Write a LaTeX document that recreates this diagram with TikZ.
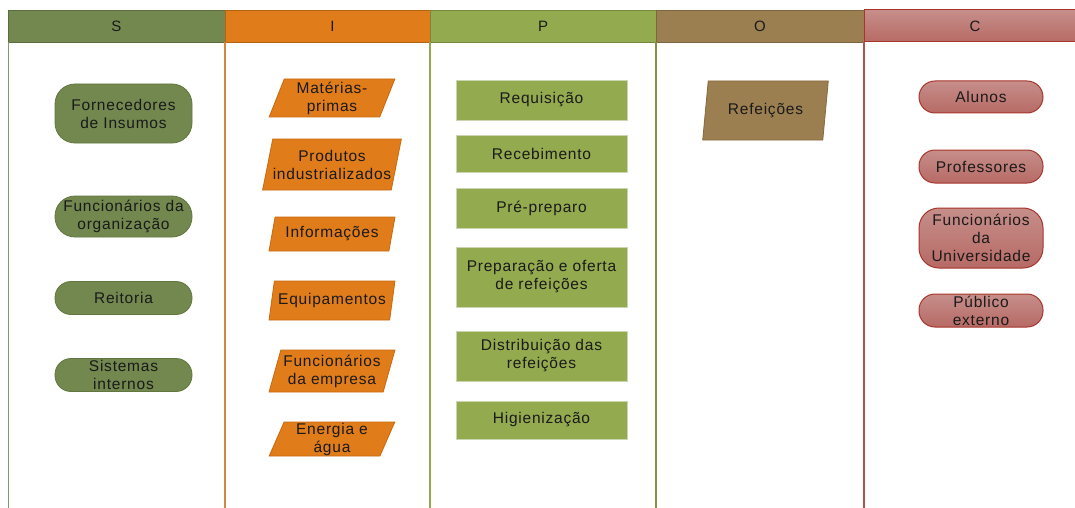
\documentclass[tikz,border=0pt]{standalone}
\usepackage{fontspec}
\setmainfont{Liberation Sans}[LetterSpace=5]
\usetikzlibrary{shapes.geometric}
\definecolor{sfill}{HTML}{72884F}
\definecolor{sline}{HTML}{62773F}
\definecolor{ifill}{HTML}{E07C1A}
\definecolor{iline}{HTML}{C8690E}
\definecolor{pfill}{HTML}{93AA4E}
\definecolor{pline}{HTML}{7F953E}
\definecolor{ofill}{HTML}{9C7F50}
\definecolor{oline}{HTML}{86693C}
\definecolor{cfilltop}{HTML}{C68E8A}
\definecolor{cfillbot}{HTML}{B76A65}
\definecolor{cline}{HTML}{A8352B}
\definecolor{ink}{HTML}{1A1A1A}
\begin{document}
\begin{tikzpicture}[x=1pt,y=-1pt,
  every node/.style={text=ink, font=\fontsize{15.5}{18}\selectfont, align=center, inner sep=0pt},
  header/.style={draw=#1!80!black, fill=#1, line width=0.8pt, minimum height=32pt, font=\fontsize{15}{16}\selectfont},
  sbox/.style={draw=sline, fill=sfill, line width=0.8pt, rounded corners=#1, minimum width=137pt},
  ibox/.style={draw=iline, fill=ifill, line width=0.8pt, trapezium, trapezium left angle=71, trapezium right angle=109, trapezium stretches=true, minimum width=126pt},
  pbox/.style={draw=pline!40!white, fill=pfill, line width=0.8pt, minimum width=171pt},
  obox/.style={draw=oline, fill=ofill, line width=0.8pt, trapezium, trapezium left angle=76, trapezium right angle=104, trapezium stretches=true, minimum width=126pt},
  cbox/.style={draw=cline, top color=cfilltop, bottom color=cfillbot, line width=1pt, rounded corners=#1, minimum width=124pt},
  divider/.style={line width=#1}
]
\useasboundingbox[fill=white] (0,0) rectangle (1075,508);

\begin{scope}
\clip (0,0) rectangle (1075,508);
% column headers
\node[header=sfill, minimum width=217pt] (hS) at (116.5,26) {S};
\node[header=ifill, minimum width=205pt] (hI) at (327.5,26) {\hspace*{10pt}I};
\node[header=pfill, minimum width=226pt] (hP) at (543,26) {P};
\node[header=ofill, minimum width=208pt] (hO) at (760,26) {O};
\node[draw=cline, top color=cfilltop, bottom color=cfillbot, line width=1pt, minimum height=32pt,
      minimum width=222pt, font=\fontsize{15}{16}\selectfont] (hC) at (975,26) {C};

% column dividers
\draw[divider=1pt, sfill!85!white] (8,42) -- (8,510);
\draw[divider=1.2pt, iline!80!white] (225,42) -- (225,510);
\draw[divider=1.2pt, pfill] (430,42) -- (430,510);
\draw[divider=2pt, pline] (656,42) -- (656,510);
\draw[divider=1.2pt, cline!85!white] (864,42) -- (864,510);
\end{scope}

% S: suppliers
\node[sbox=20pt, minimum height=59pt] (s1) at (123.5,113.5) {Fornecedores\\de Insumos};
\node[sbox=20pt, minimum height=41pt] (s2) at (123.5,216.5) {Funcionários da\\organização};
\node[sbox=16pt, minimum height=33pt] (s3) at (123.5,298) {Reitoria};
\node[sbox=16pt, minimum height=33pt] (s4) at (123.5,375) {Sistemas\\internos};

% I: inputs
\node[ibox, minimum height=38pt] (i1) at (332,98) {Matérias-\\primas};
\node[ibox, minimum height=51pt, minimum width=138pt] (i2) at (332,164.5) {Produtos\\industrializados};
\node[ibox, minimum height=34pt] (i3) at (332,234) {Informações};
\node[ibox, minimum height=39pt] (i4) at (332,300.5) {Equipamentos};
\node[ibox, minimum height=42pt] (i5) at (332,371) {Funcionários\\da empresa};
\node[ibox, minimum height=34pt] (i6) at (332,439) {Energia e\\água};

% P: process
\node[pbox, minimum height=40pt] (p1) at (541.5,100) {Requisição};
\node[pbox, minimum height=37pt] (p2) at (541.5,153.5) {Recebimento};
\node[pbox, minimum height=40pt] (p3) at (541.5,208) {Pré-preparo};
\node[pbox, minimum height=60pt] (p4) at (541.5,277) {Preparação e oferta\\de refeições};
\node[pbox, minimum height=50pt] (p5) at (541.5,356) {Distribuição das\\refeições};
\node[pbox, minimum height=38pt] (p6) at (541.5,420) {Higienização};

% O: outputs
\node[obox, minimum height=59pt] (o1) at (765.5,110.5) {Refeições};

% C: customers
\node[cbox=16pt, minimum height=32pt] (c1) at (981,97) {Alunos};
\node[cbox=16pt, minimum height=33pt] (c2) at (981,166.5) {Professores};
\node[cbox=20pt, minimum height=60pt] (c3) at (981,238) {Funcionários\\da\\Universidade};
\node[cbox=16pt, minimum height=33pt] (c4) at (981,310.5) {Público\\externo};
\end{tikzpicture}
\end{document}
